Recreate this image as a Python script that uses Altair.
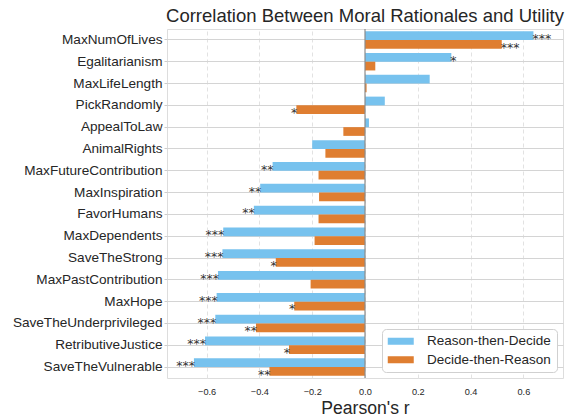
import altair as alt
import pandas as pd

categories = ["MaxNumOfLives", "Egalitarianism", "MaxLifeLength", "PickRandomly", "AppealToLaw",
              "AnimalRights", "MaxFutureContribution", "MaxInspiration", "FavorHumans", "MaxDependents",
              "SaveTheStrong", "MaxPastContribution", "MaxHope", "SaveTheUnderprivileged",
              "RetributiveJustice", "SaveTheVulnerable"]
series = ["Reason-then-Decide", "Decide-then-Reason"]
reason_then_decide = [0.638, 0.327, 0.245, 0.075, 0.015, -0.200, -0.350, -0.397, -0.421, -0.537,
                      -0.540, -0.557, -0.562, -0.567, -0.606, -0.648]
decide_then_reason = [0.518, 0.039, 0.006, -0.260, -0.082, -0.150, -0.176, -0.174, -0.176, -0.191,
                      -0.338, -0.206, -0.268, -0.413, -0.288, -0.362]
stars_rtd = ["***", "*", "", "", "", "", "**", "**", "**", "***", "***", "***", "***", "***", "***", "***"]
stars_dtr = ["***", "", "", "*", "", "", "", "", "", "", "*", "", "*", "**", "*", "**"]
colors = ["#77c2ee", "#df7e31"]
x_ticks = [-0.6, -0.4, -0.2, 0.0, 0.2, 0.4, 0.6]

rows = []
for i, c in enumerate(categories):
    rows.append({"cat": c, "series": series[0], "value": reason_then_decide[i], "stars": stars_rtd[i]})
    rows.append({"cat": c, "series": series[1], "value": decide_then_reason[i], "stars": stars_dtr[i]})
df = pd.DataFrame(rows)

font = "Liberation Sans"

y_enc = alt.Y("cat:N", sort=categories, title=None,
              scale=alt.Scale(paddingInner=0, paddingOuter=0),
              axis=alt.Axis(bandPosition=0.5, labelFontSize=13.6, labelColor="#262626",
                            labelFont=font, domain=False, ticks=True, tickSize=3,
                            tickColor="#cccccc", labelPadding=2, grid=True,
                            gridColor="#d4d4d4", gridWidth=1))
yoff = alt.YOffset("series:N", sort=series,
                   scale=alt.Scale(paddingInner=0, paddingOuter=0.25))
x_scale = alt.Scale(domain=[-0.75, 0.75], nice=False, zero=False)

bars = alt.Chart(df).mark_bar(strokeWidth=0).encode(
    x=alt.X("value:Q", scale=x_scale, title="Pearson's r",
            axis=alt.Axis(values=x_ticks, format=".1f", labelFontSize=9.2, labelColor="#262626",
                          labelFont=font, ticks=False, domain=False, grid=True,
                          gridColor="#e2e2e2", gridDash=[4, 3], gridWidth=1,
                          titleFontSize=17.6, titleFontWeight="normal", titleFont=font,
                          titleColor="#262626", titlePadding=3, labelPadding=9)),
    y=y_enc,
    yOffset=yoff,
    color=alt.Color("series:N", sort=series,
                    scale=alt.Scale(domain=series, range=colors),
                    legend=alt.Legend(title=None, orient="bottom-right", offset=6,
                                      labelFontSize=13.5, labelFont=font, labelColor="#262626",
                                      symbolType="M-1,-0.54H3V0.54H-1Z", symbolSize=169,
                                      symbolStrokeWidth=0, symbolOpacity=1,
                                      strokeColor="#d0d0d0", fillColor="white", cornerRadius=4,
                                      padding=5.5, rowPadding=3.5, labelOffset=26)),
)

zero = alt.Chart(pd.DataFrame({"x": [0.0]})).mark_rule(color="#8c8c8c", strokeWidth=1.2).encode(
    x=alt.X("x:Q", scale=x_scale)
)

pos = df[(df["stars"] != "") & (df["value"] >= 0)]
neg = df[(df["stars"] != "") & (df["value"] < 0)]

star_font = "DejaVu Sans"
txt_pos = alt.Chart(pos).mark_text(align="left", baseline="alphabetic", dx=-1, dy=7.4,
                                   fontSize=12.5, font=star_font, color="#333333").encode(
    x=alt.X("value:Q", scale=x_scale), y=alt.Y("cat:N", sort=categories), yOffset=yoff, text="stars:N")
txt_neg = alt.Chart(neg).mark_text(align="right", baseline="alphabetic", dx=1, dy=7.4,
                                   fontSize=12.5, font=star_font, color="#333333").encode(
    x=alt.X("value:Q", scale=x_scale), y=alt.Y("cat:N", sort=categories), yOffset=yoff, text="stars:N")

chart = alt.layer(bars, zero, txt_pos, txt_neg).properties(
    width=396, height=349,
    title=alt.TitleParams("Correlation Between Moral Rationales and Utility", fontSize=18.5,
                          font=font, fontWeight="normal", color="#262626", anchor="middle",
                          offset=2.5),
    autosize=alt.AutoSizeParams(type="none"),
    padding={"left": 159, "top": 21, "right": 14, "bottom": 38},
).configure_view(stroke="#cccccc", strokeWidth=1.2).configure(background="white")

chart.save("out.html", embed_options={"renderer": "svg", "actions": False})
